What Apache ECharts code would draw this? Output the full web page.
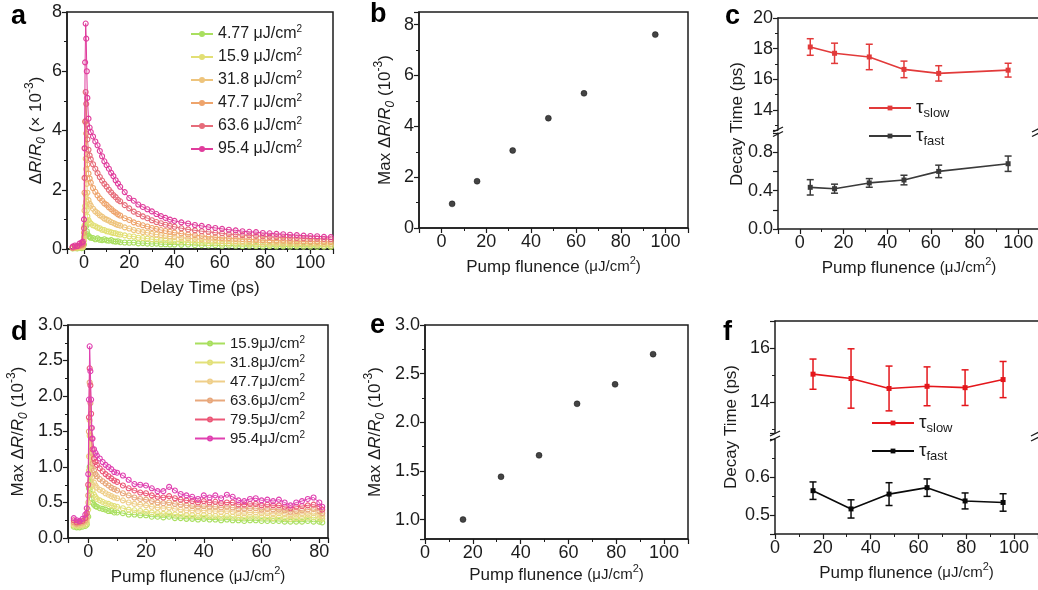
<!DOCTYPE html>
<html>
<head>
<meta charset="utf-8">
<script src="https://cdn.jsdelivr.net/npm/echarts@6/dist/echarts.min.js"></script>
<style>
  html, body { margin: 0; padding: 0; background: #fff; }
  #chart { width: 1038px; height: 590px; }
</style>
</head>
<body>
<div id="chart"></div>
<script>
// ---------- panel a: transient reflectivity traces ----------
const timeA = [-5, -4, -3, -2, -1, -0.5,
  0, 0.25, 0.5, 0.75, 1, 1.25, 1.5,
  2, 2.5, 3,
  4, 5, 6, 7, 8, 9, 10, 11, 12, 13, 14, 15, 16,
  18, 20, 22, 24, 26, 28, 30, 32, 34, 36, 38, 40,
  43, 46, 49, 52, 55, 58, 61, 64, 67, 70, 73, 76, 79, 82, 85, 88, 91, 94, 97, 100, 103, 106, 109];
const fluenceA = ['4.77 μJ/cm2', '15.9 μJ/cm2', '31.8 μJ/cm2', '47.7 μJ/cm2', '63.6 μJ/cm2', '95.4 μJ/cm2'];
const colorsA = ['#a9df5f', '#e2df74', '#eec47c', '#eea46c', '#e66c7a', '#e03c9c'];
const traceA5 = [0.02, 0.03, 0.02, 0.04, 0.03, 0.05,
  0.15, 0.45, 0.8, 0.95, 0.78, 0.6, 0.5,
  0.44, 0.41, 0.38,
  0.37, 0.33, 0.36, 0.31, 0.3, 0.33, 0.29, 0.28, 0.3, 0.26, 0.25, 0.26, 0.23,
  0.22, 0.21, 0.22, 0.19, 0.2, 0.18, 0.17, 0.18, 0.16, 0.16, 0.15, 0.15,
  0.14, 0.15, 0.13, 0.13, 0.12, 0.13, 0.11, 0.12, 0.11, 0.1, 0.11, 0.1, 0.09, 0.1, 0.09, 0.09, 0.08, 0.09, 0.08, 0.08, 0.07, 0.08, 0.07];
const traceA16 = [0.03, 0.04, 0.05, 0.05, 0.06, 0.07,
  0.28, 0.8, 1.45, 1.84, 1.6, 1.3, 1.1,
  0.97, 0.9, 0.86,
  0.8, 0.77, 0.72, 0.7, 0.65, 0.64, 0.6, 0.59, 0.56, 0.54, 0.53, 0.5, 0.49,
  0.46, 0.43, 0.42, 0.38, 0.37, 0.35, 0.33, 0.32, 0.3, 0.29, 0.27, 0.26,
  0.25, 0.23, 0.23, 0.21, 0.2, 0.2, 0.18, 0.18, 0.17, 0.17, 0.16, 0.15, 0.15, 0.14, 0.14, 0.13, 0.14, 0.13, 0.12, 0.12, 0.12, 0.11, 0.11];
const traceA32 = [0.04, 0.05, 0.06, 0.07, 0.09, 0.1,
  0.4, 1.3, 2.4, 3.05, 2.7, 2.2, 1.9,
  1.65, 1.53, 1.46,
  1.36, 1.27, 1.21, 1.14, 1.09, 1.03, 0.99, 0.96, 0.91, 0.88, 0.84, 0.81, 0.79,
  0.73, 0.69, 0.64, 0.61, 0.57, 0.55, 0.51, 0.49, 0.47, 0.44, 0.42, 0.41,
  0.38, 0.36, 0.34, 0.33, 0.31, 0.3, 0.28, 0.27, 0.26, 0.25, 0.24, 0.23, 0.22, 0.22, 0.21, 0.2, 0.2, 0.19, 0.19, 0.18, 0.18, 0.17, 0.17];
const traceA48 = [0.05, 0.06, 0.08, 0.1, 0.12, 0.14,
  0.55, 1.9, 3.4, 4.32, 3.9, 3.2, 2.85,
  2.55, 2.38, 2.24,
  2.06, 1.93, 1.81, 1.71, 1.63, 1.54, 1.49, 1.41, 1.35, 1.28, 1.23, 1.17, 1.13,
  1.04, 0.98, 0.9, 0.85, 0.8, 0.76, 0.71, 0.68, 0.64, 0.61, 0.58, 0.55,
  0.52, 0.49, 0.47, 0.44, 0.42, 0.4, 0.38, 0.37, 0.35, 0.34, 0.33, 0.31, 0.3, 0.29, 0.28, 0.28, 0.27, 0.26, 0.26, 0.25, 0.25, 0.24, 0.24];
const traceA64 = [0.05, 0.08, 0.1, 0.12, 0.15, 0.18,
  0.7, 2.4, 4.3, 5.3, 4.9, 4.2, 3.7,
  3.35, 3.16, 3.03,
  2.86, 2.71, 2.56, 2.43, 2.31, 2.2, 2.11, 2.0, 1.91, 1.82, 1.75, 1.66, 1.61,
  1.48, 1.37, 1.26, 1.18, 1.1, 1.04, 0.97, 0.91, 0.87, 0.82, 0.78, 0.75,
  0.7, 0.66, 0.63, 0.6, 0.58, 0.55, 0.53, 0.5, 0.49, 0.47, 0.46, 0.44, 0.43, 0.41, 0.4, 0.39, 0.38, 0.37, 0.36, 0.35, 0.35, 0.34, 0.33];
const traceA95 = [0.08, 0.12, 0.1, 0.18, 0.22, 0.25,
  1.0, 3.4, 6.3, 7.61, 7.1, 6.0, 5.1,
  4.4, 4.1, 3.95,
  3.8, 3.63, 3.5, 3.31, 3.13, 2.96, 2.83, 2.71, 2.57, 2.46, 2.32, 2.21, 2.1,
  1.92, 1.72, 1.63, 1.5, 1.42, 1.34, 1.27, 1.18, 1.11, 1.05, 0.99, 0.95,
  0.9, 0.86, 0.81, 0.78, 0.74, 0.71, 0.68, 0.65, 0.63, 0.6, 0.58, 0.57, 0.54, 0.53, 0.51, 0.5, 0.48, 0.47, 0.45, 0.44, 0.43, 0.41, 0.4];

// ---------- panel b: peak amplitude vs fluence ----------
const fluenceB = [4.77, 15.9, 31.8, 47.7, 63.6, 95.4];
const peakB = [0.95, 1.84, 3.05, 4.32, 5.30, 7.61];

// ---------- panel c: decay times ----------
const fluenceC = [4.77, 15.9, 31.8, 47.7, 63.6, 95.4];
const slowC = [18.11, 17.70, 17.46, 16.65, 16.39, 16.60];
const slowErrC = [0.54, 0.66, 0.83, 0.54, 0.50, 0.45];
const fastC = [0.434, 0.42, 0.48, 0.51, 0.60, 0.68];
const fastErrC = [0.08, 0.047, 0.045, 0.05, 0.065, 0.08];

// ---------- panel d: second set of traces ----------
const timeD = [-5, -4, -3, -2, -1, -0.5,
  0, 0.25, 0.5, 0.75, 1, 1.25, 1.5,
  2, 2.5, 3,
  4, 5, 6, 7, 8, 9, 10,
  12, 14, 16, 18, 20, 22, 24, 26, 28, 30, 32, 34, 36, 38, 40, 42, 44, 46, 48, 50,
  52, 54, 56, 58, 60, 62, 64, 66, 68, 70, 72, 74, 76, 78, 80, 81];
const fluenceD = ['15.9μJ/cm2', '31.8μJ/cm2', '47.7μJ/cm2', '63.6μJ/cm2', '79.5μJ/cm2', '95.4μJ/cm2'];
const colorsD = ['#a9df5f', '#e2e07a', '#efcf8a', '#e8a87c', '#ec5878', '#e040b0'];
const traceD16 = [0.16, 0.15, 0.15, 0.16, 0.17, 0.19,
  0.3, 0.7, 1.0, 0.8, 0.62, 0.55, 0.5,
  0.47, 0.45, 0.44,
  0.42, 0.41, 0.4, 0.38, 0.38, 0.36, 0.36,
  0.35, 0.33, 0.33, 0.32, 0.32, 0.3, 0.3, 0.29, 0.3, 0.28, 0.28, 0.27, 0.27, 0.26, 0.27, 0.26, 0.26, 0.25, 0.26, 0.25,
  0.25, 0.24, 0.25, 0.25, 0.24, 0.24, 0.24, 0.24, 0.23, 0.23, 0.23, 0.23, 0.24, 0.23, 0.23, 0.22];
const traceD32 = [0.18, 0.17, 0.17, 0.18, 0.19, 0.22,
  0.4, 0.95, 1.44, 1.15, 0.9, 0.75, 0.67,
  0.61, 0.58, 0.55,
  0.53, 0.51, 0.49, 0.48, 0.46, 0.45, 0.44,
  0.42, 0.4, 0.39, 0.38, 0.37, 0.36, 0.35, 0.34, 0.35, 0.33, 0.33, 0.32, 0.32, 0.31, 0.32, 0.31, 0.31, 0.3, 0.31, 0.3,
  0.29, 0.29, 0.3, 0.3, 0.29, 0.29, 0.28, 0.29, 0.28, 0.27, 0.28, 0.28, 0.29, 0.29, 0.28, 0.27];
const traceD48 = [0.2, 0.19, 0.19, 0.2, 0.22, 0.26,
  0.5, 1.15, 1.66, 1.45, 1.2, 0.98, 0.86,
  0.78, 0.74, 0.71,
  0.68, 0.66, 0.63, 0.61, 0.59, 0.57, 0.56,
  0.53, 0.5, 0.48, 0.47, 0.46, 0.44, 0.43, 0.42, 0.43, 0.41, 0.4, 0.39, 0.39, 0.38, 0.39, 0.38, 0.38, 0.37, 0.38, 0.37,
  0.35, 0.35, 0.36, 0.36, 0.35, 0.35, 0.34, 0.35, 0.34, 0.32, 0.33, 0.34, 0.34, 0.35, 0.33, 0.31];
const traceD64 = [0.22, 0.2, 0.21, 0.22, 0.25, 0.3,
  0.6, 1.5, 2.19, 1.9, 1.55, 1.2, 1.05,
  0.95, 0.9, 0.87,
  0.83, 0.8, 0.77, 0.74, 0.71, 0.69, 0.67,
  0.63, 0.6, 0.57, 0.55, 0.54, 0.52, 0.5, 0.49, 0.5, 0.48, 0.47, 0.46, 0.45, 0.44, 0.45, 0.44, 0.44, 0.43, 0.44, 0.43,
  0.41, 0.41, 0.42, 0.42, 0.4, 0.41, 0.4, 0.4, 0.39, 0.37, 0.38, 0.39, 0.4, 0.41, 0.38, 0.35];
const traceD79 = [0.25, 0.22, 0.23, 0.24, 0.28, 0.35,
  0.75, 1.7, 2.39, 2.15, 1.75, 1.4, 1.25,
  1.12, 1.07, 1.03,
  0.98, 0.94, 0.9, 0.87, 0.84, 0.81, 0.79,
  0.74, 0.7, 0.67, 0.64, 0.63, 0.6, 0.58, 0.57, 0.59, 0.56, 0.54, 0.53, 0.52, 0.5, 0.52, 0.5, 0.51, 0.49, 0.5, 0.5,
  0.47, 0.47, 0.48, 0.48, 0.46, 0.47, 0.46, 0.46, 0.44, 0.42, 0.44, 0.45, 0.46, 0.47, 0.44, 0.4];
const traceD95 = [0.28, 0.25, 0.24, 0.27, 0.33, 0.42,
  0.9, 1.95, 2.7, 2.35, 1.95, 1.55, 1.4,
  1.25, 1.2, 1.16,
  1.12, 1.07, 1.03, 1.0, 0.97, 0.93, 0.92,
  0.88, 0.82, 0.76, 0.75, 0.74, 0.7, 0.66, 0.66, 0.72, 0.67, 0.62, 0.6, 0.58, 0.55, 0.6, 0.57, 0.6, 0.56, 0.61, 0.58,
  0.53, 0.52, 0.55, 0.56, 0.53, 0.54, 0.52, 0.54, 0.5, 0.46, 0.5, 0.52, 0.55, 0.57, 0.5, 0.44];

// ---------- panel e: peak amplitude vs fluence ----------
const fluenceE = [15.9, 31.8, 47.7, 63.6, 79.5, 95.4];
const peakE = [1.0, 1.44, 1.66, 2.19, 2.39, 2.70];

// ---------- panel f: decay times ----------
const fluenceF = [15.9, 31.8, 47.7, 63.6, 79.5, 95.4];
const slowF = [15.03, 14.87, 14.50, 14.58, 14.53, 14.83];
const slowErrF = [0.56, 1.10, 0.83, 0.72, 0.66, 0.67];
const fastF = [0.564, 0.516, 0.555, 0.572, 0.537, 0.533];
const fastErrF = [0.023, 0.024, 0.030, 0.023, 0.021, 0.023];

// ---------- styling helpers ----------
const F = '"Liberation Sans", Arial, sans-serif';
const INK = '#1c1c1c';

function merge(a, b) {
  const out = Object.assign({}, a);
  for (const k in b) {
    const v = b[k];
    if (v && typeof v === 'object' && !Array.isArray(v) && a[k] && typeof a[k] === 'object') out[k] = merge(a[k], v);
    else out[k] = v;
  }
  return out;
}

const nameRich = {
  n: { fontSize: 17, lineHeight: 24, fontFamily: F, color: INK },
  i: { fontSize: 17, lineHeight: 24, fontFamily: F, color: INK, fontStyle: 'italic' },
  sub: { fontSize: 12, lineHeight: 12, fontFamily: F, color: INK, fontStyle: 'italic', verticalAlign: 'bottom' },
  sup: { fontSize: 12, lineHeight: 12, fontFamily: F, color: INK, verticalAlign: 'top' },
  s: { fontSize: 15, lineHeight: 24, fontFamily: F, color: INK },
  s2: { fontSize: 11, lineHeight: 11, fontFamily: F, color: INK, verticalAlign: 'top' }
};

const baseAxis = {
  type: 'value',
  splitLine: { show: false },
  axisLine: { show: true, onZero: false, lineStyle: { color: INK, width: 1.5 } },
  axisTick: { show: true, inside: false, length: 5, lineStyle: { color: INK, width: 1.2 } },
  minorTick: { show: true, splitNumber: 2, length: 3, lineStyle: { color: INK, width: 1 } },
  axisLabel: { color: INK, fontSize: 18, fontFamily: F, margin: 5 },
  nameTextStyle: { fontSize: 17, lineHeight: 24, fontFamily: F, color: INK, rich: nameRich }
};
const ax = (o) => merge(baseAxis, o);
const bareAxis = (o) => merge(baseAxis, merge({ axisTick: { show: false }, minorTick: { show: false }, axisLabel: { show: false } }, o));

const fluenceName = 'Pump flunence {s|(μJ/cm}{s2|2}{s|)}';
const maxName = '{n|Max Δ}{i|R}{n|/}{i|R}{sub|0}{n| (10}{sup|-3}{n|)}';
const fix1 = (v) => v.toFixed(1);

function gridBox(left, top, width, height, framed) {
  return { left, top, width, height, containLabel: false, outerBoundsMode: 'none',
    show: framed, borderColor: INK, borderWidth: 1.5, backgroundColor: 'transparent' };
}

// layout of the eight plotting areas
const grids = [
  gridBox(67, 12, 266, 237, true),    // a
  gridBox(419, 12, 269, 216, true),   // b
  gridBox(778, 18, 262, 112, false),  // c upper
  gridBox(778, 133, 262, 96, false),  // c lower
  gridBox(68, 325, 260, 213, true),   // d
  gridBox(425, 325, 263, 214, true),  // e
  gridBox(775, 321, 263, 112, false), // f upper
  gridBox(775, 439, 263, 95, false)   // f lower
];

const xAxes = [
  ax({ gridIndex: 0, min: -7.5, max: 110, axisLabel: { showMinLabel: false, showMaxLabel: false },
       name: 'Delay Time (ps)', nameLocation: 'middle', nameGap: 27 }),
  ax({ gridIndex: 1, min: -10, max: 110, axisLabel: { showMinLabel: false, showMaxLabel: false },
       name: fluenceName, nameLocation: 'middle', nameGap: 27 }),
  bareAxis({ gridIndex: 2, position: 'top', min: -10, max: 110 }),
  ax({ gridIndex: 3, min: -10, max: 110, axisLabel: { showMinLabel: false, showMaxLabel: false },
       name: fluenceName, nameLocation: 'middle', nameGap: 27 }),
  ax({ gridIndex: 4, min: -7, max: 83, axisLabel: { showMinLabel: false, showMaxLabel: false },
       name: fluenceName, nameLocation: 'middle', nameGap: 27 }),
  ax({ gridIndex: 5, min: 0, max: 110, axisLabel: { showMaxLabel: false },
       name: fluenceName, nameLocation: 'middle', nameGap: 24 }),
  bareAxis({ gridIndex: 6, position: 'top', min: 0, max: 110 }),
  ax({ gridIndex: 7, min: 0, max: 110, axisLabel: { showMaxLabel: false },
       name: fluenceName, nameLocation: 'middle', nameGap: 27 })
];

const yAxes = [
  ax({ gridIndex: 0, min: 0, max: 8, interval: 2,
       name: '{n|Δ}{i|R}{n|/}{i|R}{sub|0}{n| (× 10}{sup|-3}{n|)}', nameLocation: 'middle', nameGap: 19 }),
  ax({ gridIndex: 1, min: 0, max: 8.5, interval: 2, axisLabel: { showMaxLabel: false },
       name: maxName, nameLocation: 'middle', nameGap: 22 }),
  ax({ gridIndex: 2, min: 12.7, max: 20, splitNumber: 3,
       axisLabel: { showMinLabel: false, formatter: (v) => (Math.abs(v % 2) < 1e-6 ? String(v) : '') } }),
  ax({ gridIndex: 3, min: 0, max: 1.0, interval: 0.2, minorTick: { show: false },
       axisLabel: { formatter: (v) => (Math.round(v * 10) % 4 === 0 && v < 0.95 ? fix1(v) : '') } }),
  ax({ gridIndex: 4, min: 0, max: 3, interval: 0.5, axisLabel: { formatter: fix1 },
       name: maxName, nameLocation: 'middle', nameGap: 38 }),
  ax({ gridIndex: 5, min: 0.8, max: 3.0, splitNumber: 4, axisLabel: { showMinLabel: false, formatter: fix1 },
       name: maxName, nameLocation: 'middle', nameGap: 38 }),
  ax({ gridIndex: 6, min: 12.85, max: 17, splitNumber: 2,
       axisLabel: { showMinLabel: false, showMaxLabel: false, formatter: (v) => (Math.abs(v % 2) < 1e-6 ? String(v) : '') } }),
  ax({ gridIndex: 7, min: 0.45, max: 0.7, splitNumber: 3,
       axisLabel: { showMinLabel: false, showMaxLabel: false, formatter: fix1 } })
];

// ---------- series ----------
function traceSeries(name, times, values, color, axisIdx, z) {
  return {
    type: 'line', name, xAxisIndex: axisIdx, yAxisIndex: axisIdx, z,
    data: times.map((t, i) => [t, values[i]]),
    symbol: 'circle', symbolSize: 5, showAllSymbol: true,
    lineStyle: { color, width: 1 },
    itemStyle: { color: 'rgba(255,255,255,0)', borderColor: color, borderWidth: 1.1 },
    emphasis: { disabled: true }
  };
}

function errorBars(xs, ys, errs, color, axisIdx) {
  return {
    type: 'custom', xAxisIndex: axisIdx, yAxisIndex: axisIdx, z: 4,
    data: xs.map((x, i) => [x, ys[i] - errs[i], ys[i] + errs[i]]),
    encode: { x: 0, y: [1, 2] },
    renderItem: function (params, api) {
      const x = api.value(0);
      const top = api.coord([x, api.value(2)]);
      const bot = api.coord([x, api.value(1)]);
      const w = 3.5;
      const style = { stroke: color, lineWidth: 1.5 };
      return {
        type: 'group',
        children: [
          { type: 'line', shape: { x1: top[0], y1: top[1], x2: bot[0], y2: bot[1] }, style },
          { type: 'line', shape: { x1: top[0] - w, y1: top[1], x2: top[0] + w, y2: top[1] }, style },
          { type: 'line', shape: { x1: bot[0] - w, y1: bot[1], x2: bot[0] + w, y2: bot[1] }, style }
        ]
      };
    }
  };
}

function decayLine(name, xs, ys, color, axisIdx) {
  return {
    type: 'line', name, xAxisIndex: axisIdx, yAxisIndex: axisIdx, z: 5,
    data: xs.map((x, i) => [x, ys[i]]),
    symbol: 'rect', symbolSize: 5,
    lineStyle: { color, width: 1.6 },
    itemStyle: { color },
    emphasis: { disabled: true }
  };
}

function dots(xs, ys, axisIdx) {
  return {
    type: 'scatter', xAxisIndex: axisIdx, yAxisIndex: axisIdx,
    data: xs.map((x, i) => [x, ys[i]]),
    symbol: 'circle', symbolSize: 6,
    itemStyle: { color: '#151515', borderColor: '#000', borderWidth: 0.5 },
    emphasis: { disabled: true }
  };
}

const tracesA = [traceA5, traceA16, traceA32, traceA48, traceA64, traceA95];
const tracesD = [traceD16, traceD32, traceD48, traceD64, traceD79, traceD95];

const RED_C = '#e23a3a', GREY_C = '#3a3a3a';
const RED_F = '#e4161b', BLACK_F = '#0a0a0a';

const series = [].concat(
  tracesA.map((v, k) => traceSeries(fluenceA[k], timeA, v, colorsA[k], 0, 2 + k)),
  [dots(fluenceB, peakB, 1)],
  [errorBars(fluenceC, slowC, slowErrC, RED_C, 2), decayLine('cSlow', fluenceC, slowC, RED_C, 2)],
  [errorBars(fluenceC, fastC, fastErrC, GREY_C, 3), decayLine('cFast', fluenceC, fastC, GREY_C, 3)],
  tracesD.map((v, k) => traceSeries(fluenceD[k], timeD, v, colorsD[k], 4, 2 + k)),
  [dots(fluenceE, peakE, 5)],
  [errorBars(fluenceF, slowF, slowErrF, RED_F, 6), decayLine('fSlow', fluenceF, slowF, RED_F, 6)],
  [errorBars(fluenceF, fastF, fastErrF, BLACK_F, 7), decayLine('fFast', fluenceF, fastF, BLACK_F, 7)]
);

// ---------- legends ----------
const supFmt = (name) => name.replace('cm2', 'cm{sup|2}');
const tauFmt = (name) => (/Slow$/.test(name) ? 'τ{sub|slow}' : 'τ{sub|fast}');

function traceLegend(names, left, top, size, lineH, gap, itemW) {
  return {
    orient: 'vertical', left, top, padding: 0, itemGap: gap, itemWidth: itemW, itemHeight: 5,
    selectedMode: false, data: names, formatter: supFmt,
    textStyle: { fontFamily: F, fontSize: size, lineHeight: lineH, color: INK,
      rich: { sup: { fontFamily: F, fontSize: Math.round(size * 0.65), lineHeight: 10, verticalAlign: 'top', color: INK } } }
  };
}
function tauLegend(names, left, top) {
  return {
    orient: 'vertical', left, top, padding: 0, itemGap: 4, itemWidth: 42, itemHeight: 6,
    selectedMode: false, data: names, formatter: tauFmt,
    textStyle: { fontFamily: F, fontSize: 19, lineHeight: 24, color: INK,
      rich: { sub: { fontFamily: F, fontSize: 13, lineHeight: 13, verticalAlign: 'bottom', color: INK } } }
  };
}

// ---------- panel letters ----------
const letters = [['a', 11, 3], ['b', 370, 1], ['c', 725, 3], ['d', 11, 319], ['e', 370, 312], ['f', 723, 319]];

// ---------- axis break marks and shared axis titles ----------
function breakMark(x, y) {
  return { type: 'line', z: 100, shape: { x1: x - 5, y1: y + 2.5, x2: x + 5, y2: y - 2.5 },
           style: { stroke: INK, lineWidth: 1.3 } };
}
function sideTitle(x, y) {
  return { type: 'text', x, y, rotation: Math.PI / 2, z: 100,
           style: { text: 'Decay Time (ps)', font: '17px ' + F, fill: INK,
                    align: 'center', verticalAlign: 'middle', textAlign: 'center', textVerticalAlign: 'middle' } };
}
const graphics = [
  breakMark(778, 129.5), breakMark(778, 134),
  breakMark(1037, 129.5), breakMark(1037, 134),
  breakMark(775, 433.5), breakMark(775, 438.5),
  breakMark(1036, 433.5), breakMark(1036, 438.5),
  sideTitle(737, 124),
  sideTitle(731, 427)
];

const chart = echarts.init(document.getElementById('chart'), null, { renderer: 'canvas' });
chart.setOption({
  backgroundColor: '#ffffff',
  animation: false,
  textStyle: { fontFamily: F },
  title: letters.map(([t, l, tp]) => ({ text: t, left: l, top: tp, padding: 0,
    textStyle: { fontSize: 27, fontWeight: 'bold', fontFamily: F, color: '#000' } })),
  legend: [
    traceLegend(fluenceA, 190, 24, 16, 20, 3, 22),
    traceLegend(fluenceD, 194, 335, 15, 17, 2, 30),
    tauLegend(['cSlow', 'cFast'], 868, 96),
    tauLegend(['fSlow', 'fFast'], 871, 411)
  ],
  grid: grids,
  xAxis: xAxes,
  yAxis: yAxes,
  series,
  graphic: graphics
});
</script>
</body>
</html>
